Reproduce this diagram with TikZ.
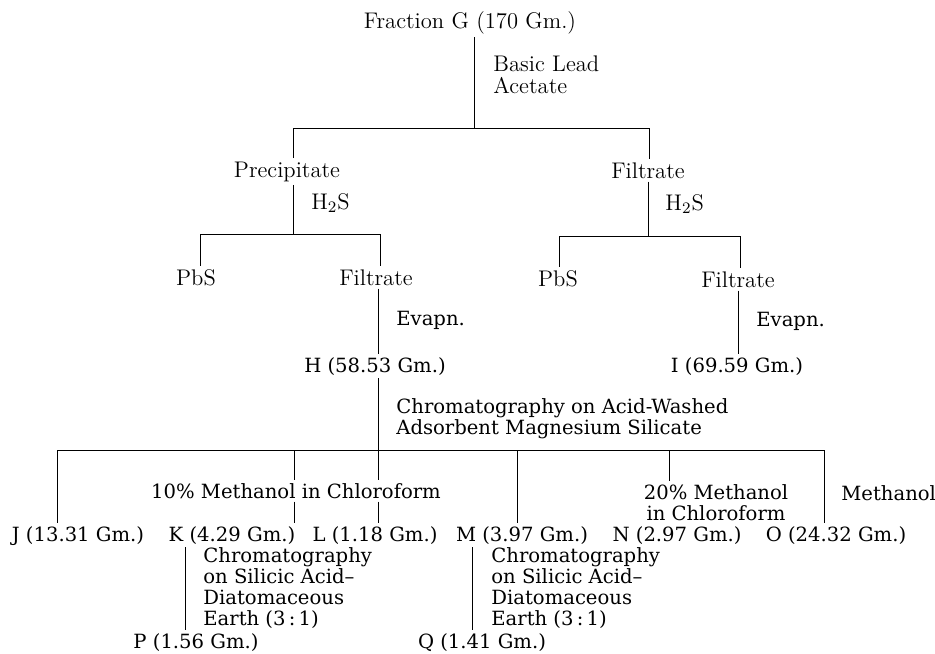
\documentclass[tikz,border=0pt]{standalone}
\usepackage{fontspec}
\newfontfamily\centfont[Ligatures=TeX]{DejaVu Serif}
\newcommand{\modfont}{\fontsize{11.3}{10.8}\selectfont}
\newcommand{\schfont}{\centfont\fontsize{9.8}{10.5}\selectfont}
\begin{document}
\begin{tikzpicture}[x=0.5pt, y=-0.5pt,
    frac/.style={anchor=base, inner sep=1.5pt, font=\modfont},
    reag/.style={anchor=base west, inner sep=1.5pt, align=left, font=\modfont},
    cfrac/.style={frac, font=\schfont},
    creag/.style={reag, font=\schfont},
    link/.style={line width=0.5pt}]
  \useasboundingbox (0,0) rectangle (935,653);

  % Nodes
  \node (fracG)  [frac] at (470,28) {Fraction G (170 Gm.)};
  \node (lead)   [reag] at (490,93) {Basic Lead\\Acetate};
  \node (prec)   [frac] at (287,177) {Precipitate};
  \node (filtA)  [frac] at (648,178) {Filtrate};
  \node (hsA)    [reag] at (308,209) {H$_2$S};
  \node (hsB)    [reag] at (662,210) {H$_2$S};
  \node (pbsA)   [frac] at (196,285) {PbS};
  \node (filtB)  [frac] at (376,285) {Filtrate};
  \node (pbsB)   [frac] at (558,286) {PbS};
  \node (filtC)  [frac] at (738,287) {Filtrate};
  \node (evA)    [creag] at (393,325) {Evapn.};
  \node (evB)    [creag] at (753,326) {Evapn.};
  \node (fracH)  [cfrac] at (375,372) {H (58.53 Gm.)};
  \node (fracI)  [cfrac] at (737,372) {I (69.59 Gm.)};
  \node (chromH) [creag] at (393,434) {Chromatography on Acid-Washed\\Adsorbent Magnesium Silicate};
  \node (meth10) [cfrac] at (296,498) {10\% Methanol in Chloroform};
  \node (meth20) [cfrac, align=center] at (716,520) {20\% Methanol\\in Chloroform};
  \node (meth)   [creag] at (838,500) {Methanol};
  \node (fracJ)  [cfrac] at (78,541) {J (13.31 Gm.)};
  \node (fracK)  [cfrac] at (232,541) {K (4.29 Gm.)};
  \node (fracL)  [cfrac] at (375,541) {L (1.18 Gm.)};
  \node (fracM)  [cfrac] at (522,541) {M (3.97 Gm.)};
  \node (fracN)  [cfrac] at (677,541) {N (2.97 Gm.)};
  \node (fracO)  [cfrac] at (836,541) {O (24.32 Gm.)};
  \node (chromK) [creag] at (200,625) {Chromatography\\on Silicic Acid--\\Diatomaceous\\Earth (3\,:\,1)};
  \node (chromM) [creag] at (488,625) {Chromatography\\on Silicic Acid--\\Diatomaceous\\Earth (3\,:\,1)};
  \node (fracP)  [cfrac] at (196,648) {P (1.56 Gm.)};
  \node (fracQ)  [cfrac] at (482,648) {Q (1.41 Gm.)};

  % Bar points
  \coordinate (g0) at (474,128);
  \coordinate (g1) at (293,128);
  \coordinate (g2) at (649,128);
  \coordinate (p0) at (293,234);
  \coordinate (p1) at (200,234);
  \coordinate (p2) at (380,234);
  \coordinate (f0) at (648,236);
  \coordinate (f1) at (559,236);
  \coordinate (f2) at (740,236);
  \coordinate (hJ) at (57,450);
  \coordinate (hK) at (294,450);
  \coordinate (hL) at (378,450);
  \coordinate (hM) at (517,450);
  \coordinate (hN) at (669,450);
  \coordinate (hO) at (824,450);
  \coordinate (kP) at (185,590);
  \coordinate (mQ) at (472,590);

  % Edges
  \draw[link] (fracG.south -| g0) -- (g0);
  \draw[link] (prec.north -| g1) -- (g1) -- (g2) -- (filtA.north -| g2);
  \draw[link] (prec.south -| p0) -- (p0);
  \draw[link] (pbsA.north -| p1) -- (p1) -- (p2) -- (filtB.north -| p2);
  \draw[link] (filtA.south -| f0) -- (f0);
  \draw[link] (pbsB.north -| f1) -- (f1) -- (f2) -- (filtC.north -| f2);
  \draw[link] (filtB.south -| hL) -- (fracH.north -| hL);
  \draw[link] (filtC.south) -- (filtC.south |- fracI.north);
  \draw[link] (fracH.south -| hL) -- (hL);
  \draw[link] (hJ) -- (hO);
  \draw[link] (hJ) -- (hJ |- fracJ.north);
  \draw[link] (hK) -- (hK |- meth10.north) (hK |- meth10.south) -- (hK |- fracK.north);
  \draw[link] (hL) -- (hL |- meth10.north) (hL |- meth10.south) -- (hL |- fracL.north);
  \draw[link] (hM) -- (hM |- fracM.north);
  \draw[link] (hN) -- (hN |- meth20.north);
  \draw[link] (hO) -- (hO |- fracO.north);
  \draw[link] (fracK.south -| kP) -- (fracP.north -| kP);
  \draw[link] (fracM.south -| mQ) -- (fracQ.north -| mQ);
\end{tikzpicture}
\end{document}
